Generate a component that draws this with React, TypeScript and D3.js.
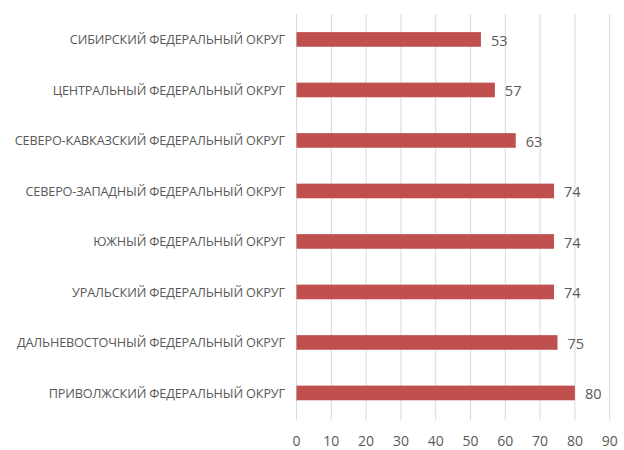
import React from "react";
import * as d3 from "d3";

const categories = [
  "СИБИРСКИЙ ФЕДЕРАЛЬНЫЙ ОКРУГ",
  "ЦЕНТРАЛЬНЫЙ ФЕДЕРАЛЬНЫЙ ОКРУГ",
  "СЕВЕРО-КАВКАЗСКИЙ ФЕДЕРАЛЬНЫЙ ОКРУГ",
  "СЕВЕРО-ЗАПАДНЫЙ ФЕДЕРАЛЬНЫЙ ОКРУГ",
  "ЮЖНЫЙ ФЕДЕРАЛЬНЫЙ ОКРУГ",
  "УРАЛЬСКИЙ ФЕДЕРАЛЬНЫЙ ОКРУГ",
  "ДАЛЬНЕВОСТОЧНЫЙ ФЕДЕРАЛЬНЫЙ ОКРУГ",
  "ПРИВОЛЖСКИЙ ФЕДЕРАЛЬНЫЙ ОКРУГ",
];
const values = [53, 57, 63, 74, 74, 74, 75, 80];
const xTicks = [0, 10, 20, 30, 40, 50, 60, 70, 80, 90];

const W = 624;
const H = 450;
const left = 296.5;
const right = 609.7;
const top = 14.2;
const bottom = 418.2;
const font = "'Open Sans', sans-serif";
const textColor = "#595959";
const barColor = "#c0504d";

export default function App() {
  const x = d3.scaleLinear().domain([0, 90]).range([left, right]);
  const y = d3
    .scaleBand<string>()
    .domain(categories)
    .range([top, bottom])
    .paddingInner(0.71)
    .paddingOuter(0.355);
  return (
    <svg
      width={W}
      height={H}
      style={{ position: "absolute", left: 0, top: 0, background: "#fff" }}
    >
      {xTicks.map((t) => (
        <line
          key={"g" + t}
          x1={x(t)}
          x2={x(t)}
          y1={top}
          y2={bottom + 2}
          stroke="#d9d9d9"
          strokeWidth={1}
        />
      ))}
      {categories.map((c, i) => (
        <g key={c}>
          <rect
            x={x(0)}
            y={y(c)!}
            width={x(values[i]) - x(0)}
            height={y.bandwidth()}
            fill={barColor}
          />
          <text
            x={285}
            y={y(c)! + y.bandwidth() / 2}
            textAnchor="end"
            dominantBaseline="central"
            fontFamily={font}
            fontSize={12.7}
            letterSpacing={-0.15}
            fill={textColor}
          >
            {c}
          </text>
          <text
            x={x(values[i]) + 10}
            y={y(c)! + y.bandwidth() / 2 + 1}
            dominantBaseline="central"
            fontFamily={font}
            fontSize={14.5}
            fill={textColor}
          >
            {values[i]}
          </text>
        </g>
      ))}
      {xTicks.map((t) => (
        <text
          key={"t" + t}
          x={x(t)}
          y={440}
          textAnchor="middle"
          dominantBaseline="central"
          fontFamily={font}
          fontSize={14}
          fill={textColor}
        >
          {t}
        </text>
      ))}
    </svg>
  );
}
